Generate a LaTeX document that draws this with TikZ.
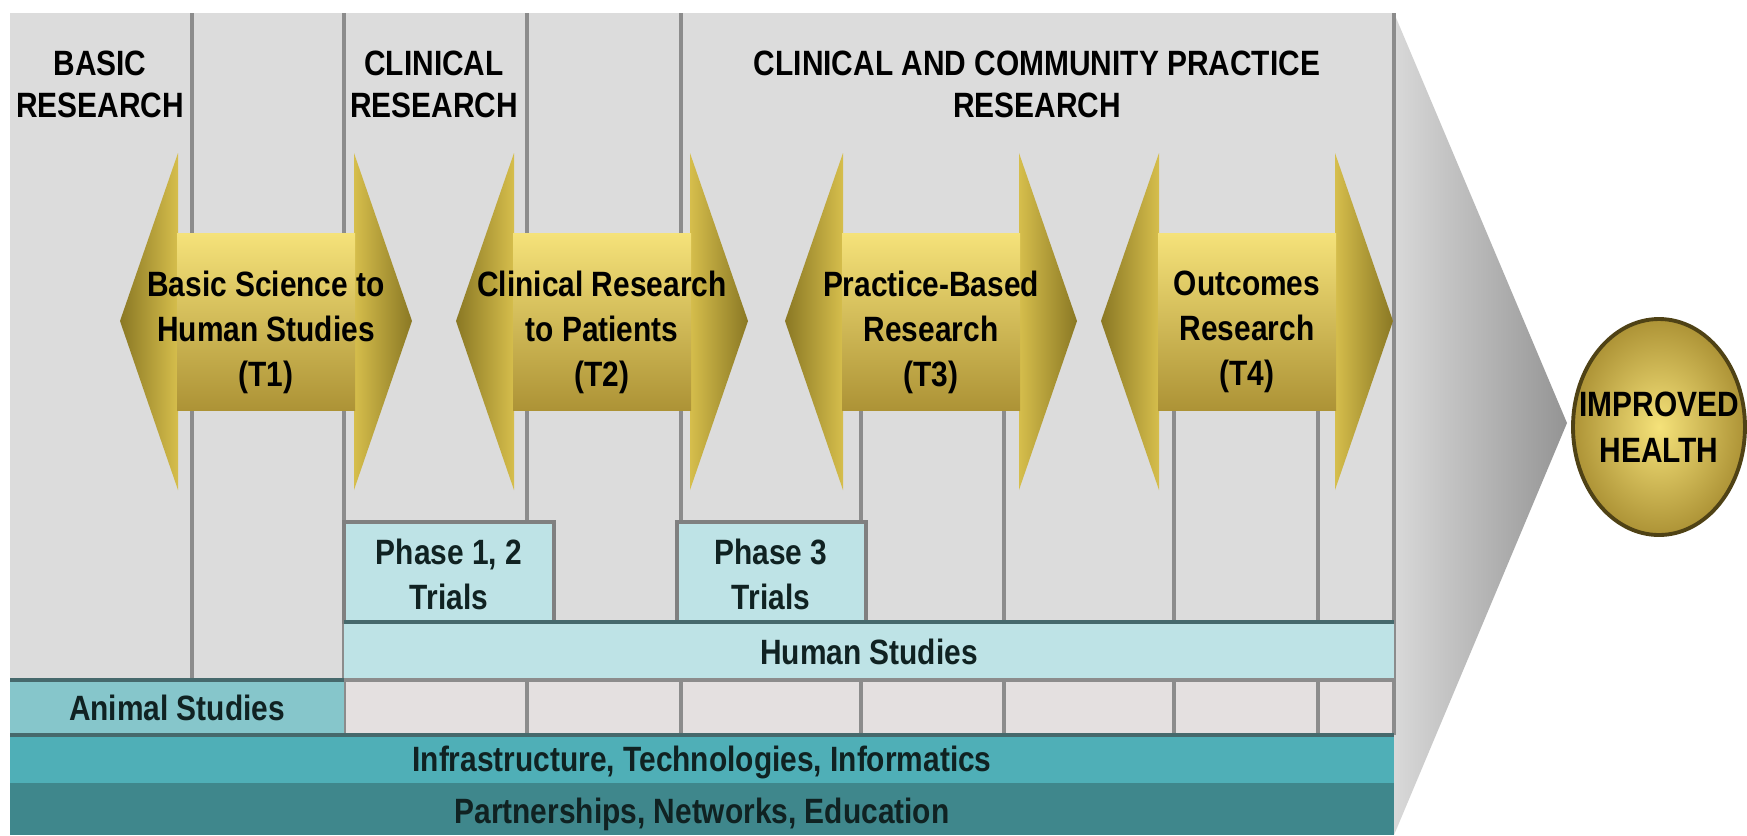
\documentclass[tikz,border=0pt]{standalone}
\usepackage{fontspec}
\usepackage{tikz}
\newfontfamily\narrowsf{Liberation Sans}[FakeStretch=0.85]

\definecolor{panelgray}{HTML}{DCDCDC}
\definecolor{stripgray}{HTML}{E4E0E0}
\definecolor{linegray}{HTML}{8C8C8C}
\definecolor{darkline}{HTML}{46696C}
\definecolor{paleteal}{HTML}{BEE3E6}
\definecolor{animalteal}{HTML}{86C6CB}
\definecolor{infrateal}{HTML}{4FAFB7}
\definecolor{partteal}{HTML}{3F878C}
\definecolor{headdark}{HTML}{8A7824}
\definecolor{headlight}{HTML}{D6BE4C}
\definecolor{bodytop}{HTML}{F5E27A}
\definecolor{bodymid}{HTML}{D8C04E}
\definecolor{bodybot}{HTML}{AD9336}
\definecolor{goldrim}{HTML}{4F4215}
\definecolor{textdark}{HTML}{102222}

\begin{document}
\begin{tikzpicture}[x=0.01cm, y=-0.01cm,
	vline/.style={draw=linegray, line width=0.9pt},
	heading/.style={font=\narrowsf\bfseries\fontsize{10}{12}\selectfont, align=center},
	arrowtext/.style={font=\narrowsf\bfseries\fontsize{10}{12.8}\selectfont, align=center},
	bartext/.style={font=\narrowsf\bfseries\fontsize{10}{12.8}\selectfont, align=center, text=textdark}]
	
	\useasboundingbox[fill=white] (0,0) rectangle (1747,835);
	
	% FUNNEL
	\shade[left color=black!15, right color=black!42] (1394,13) -- (1567,423) -- (1394,835) -- cycle;
	
	% PANEL
	\fill[panelgray] (10,13) rectangle (1394,835);
	\fill[stripgray] (344,680) rectangle (1394,735);
	
	% COLUMN LINES
	\draw[vline] (192,13) -- (192,680);
	\foreach \x in {344, 527, 681, 1394}
	\draw[vline] (\x,13) -- (\x,735);
	\foreach \x in {861, 1004, 1174, 1318}
	\draw[vline] (\x,240) -- (\x,735);
	
	% HEADINGS
	\node[heading] (basichead) at (100,84) {BASIC\\RESEARCH};
	\node[heading] (clinhead) at (434,84) {CLINICAL\\RESEARCH};
	\node[heading] (commhead) at (1037,84) {CLINICAL AND COMMUNITY PRACTICE\\RESEARCH};
	
	% Trials
	\filldraw[fill=paleteal, draw=black!50, line width=0.9pt] (344,522) rectangle (554,622);
	\node[bartext] (phaseA) at (449,574) {Phase 1, 2\\Trials};
	\filldraw[fill=paleteal, draw=black!50, line width=0.9pt] (677,522) rectangle (866,622);
	\node[bartext] (phaseB) at (771,574) {Phase 3\\Trials};
	
	% Studies bars
	\fill[paleteal] (344,622) rectangle (1394,680);
	\draw[darkline, line width=1.1pt] (344,622) -- (1394,622);
	\draw[black!45, line width=0.9pt] (344,680) -- (1394,680);
	\node[bartext] (human) at (869,652) {Human Studies};
	
	\fill[animalteal] (10,680) rectangle (344,735);
	\draw[darkline, line width=1.1pt] (10,680) -- (344,680);
	\node[bartext] (animal) at (177,708) {Animal Studies};
	
	% Base bars
	\fill[infrateal] (10,735) rectangle (1394,783);
	\fill[partteal] (10,783) rectangle (1394,835);
	\draw[darkline, line width=1.1pt] (10,735) -- (1394,735);
	\node[bartext] (infra) at (702,762) {Infrastructure, Technologies, Informatics};
	\node[bartext] (partner) at (702,814) {Partnerships, Networks, Education};
	
	% T ARROWS
	\foreach \cx/\tname/\ttext in {266/t1/{Basic Science to\\Human Studies\\(T1)},
		602/t2/{Clinical Research\\to Patients\\(T2)},
		931/t3/{Practice-Based\\Research\\(T3)},
		1247/t4/{Outcomes\\Research\\(T4)}}{
		\shade[left color=headdark, right color=headlight] (\cx-146,321) -- (\cx-88,153) -- (\cx-88,490) -- cycle;
		\shade[left color=headlight, right color=headdark] (\cx+88,153) -- (\cx+146,321) -- (\cx+88,490) -- cycle;
		\shade[top color=bodytop, middle color=bodymid, bottom color=bodybot] (\cx-89,233) rectangle (\cx+89,410);
		\node[arrowtext] (\tname) at (\cx,332) {\ttext};
	}
	
	% IMPROVED HEALTH
	\shade[inner color=bodytop, outer color=bodybot, draw=goldrim, line width=1.1pt] (1659,427) ellipse [x radius=86, y radius=108];
	\node[heading, font=\narrowsf\bfseries\fontsize{10}{13}\selectfont] (health) at (1659,427) {IMPROVED\\HEALTH};
	
\end{tikzpicture}
\end{document}
